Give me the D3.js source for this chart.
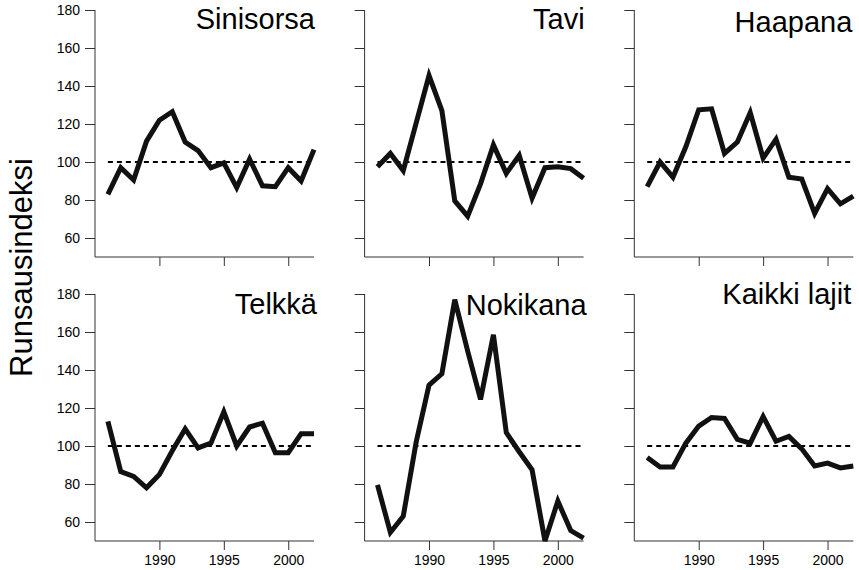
<!DOCTYPE html>
<html>
<head>
<meta charset="utf-8">
<script src="https://cdn.jsdelivr.net/npm/d3@7/dist/d3.min.js"></script>
<style>
    html, body { margin: 0; padding: 0; background: #fff; }
    #chart { width: 859px; height: 570px; }
    text { font-family: "Liberation Sans", Arial, Helvetica, sans-serif; }
</style>
</head>
<body>
<div id="chart"></div>
<script>
// vuodet ja lajikohtaiset indeksit (luettu kuvasta)
const years = [1986, 1987, 1988, 1989, 1990, 1991, 1992, 1993, 1994, 1995, 1996, 1997, 1998, 1999, 2000, 2001, 2002];
const sinisorsa = [83, 97, 90.5, 111, 122, 126.5, 110.5, 106, 97, 99.5, 86.5, 101.5, 87.5, 87, 97, 90, 106.5];
const tavi = [97.5, 104.5, 95.5, 120.5, 145.5, 127, 79.5, 71.5, 88.5, 109, 94, 103.5, 81, 97, 97.5, 96.5, 91.5];
const haapana = [87, 100, 92, 108, 127.5, 128, 104.5, 110.5, 126, 102, 112, 92, 91, 73, 86, 78, 82];
const telkka = [113, 86.5, 84, 78, 85, 97.5, 109, 99, 101.5, 118, 100, 110, 112, 96.5, 96.5, 106.5, 106.5];
const nokikana = [79.5, 54.5, 63, 102, 132, 138, 177, 150, 124.5, 158.5, 107, 97, 87.5, 50, 71, 55.5, 51.5];
const kaikki = [94, 89, 89, 101.5, 110.5, 115, 114.5, 103.5, 101.5, 115.5, 102.5, 105, 98.5, 89.5, 91, 88.5, 89.5];

const titles = ['Sinisorsa', 'Tavi', 'Haapana', 'Telkkä', 'Nokikana', 'Kaikki lajit'];
const series = [sinisorsa, tavi, haapana, telkka, nokikana, kaikki];
const yTicks = [60, 80, 100, 120, 140, 160, 180];
const xTicks = [1990, 1995, 2000];
const yDomain = [50, 180];
const xDomain = [1985, 2002];
const baseline = 100;
const yLabel = 'Runsausindeksi';

// otsikoiden sijainti paneelin sisällä (oikea reuna, peruslinja)
const titleDx = [220, 220, 218, 222, 222, 217];
const titleDy = [18.5, 19, 21.5, 19.5, 21, 9.5];

class PanelChart {
    constructor(div_id) {
        this.div_id = div_id;
        this.width = 859;
        this.height = 570;
        this.colX = [95, 364.6, 634.3];
        this.rowY = [10, 294];
        this.plotW = 219;
        this.plotH = 247;
        this.svg = undefined;
    }

    setting() {
        this.svg = d3.select(`#${this.div_id}`)
            .append('svg')
            .attr('width', this.width)
            .attr('height', this.height)
            .attr('viewBox', [0, 0, this.width, this.height]);
    }

    renderPanel(i) {
        const col = i % 3;
        const row = Math.floor(i / 3);
        const g = this.svg.append('g')
            .attr('transform', `translate(${this.colX[col]},${this.rowY[row]})`);

        const x = d3.scaleLinear().domain(xDomain).range([0, this.plotW]);
        const y = d3.scaleLinear().domain(yDomain).range([this.plotH, 0]);

        // y-akseli
        const yAxis = d3.axisLeft(y)
            .tickValues(yTicks)
            .tickSize(10)
            .tickPadding(5)
            .tickFormat(col === 0 ? d3.format('d') : () => '');
        const ya = g.append('g').call(yAxis);
        ya.select('.domain').attr('d', `M0,${y(yDomain[1])}V${y(yDomain[0])}`);

        // x-akseli
        const xAxis = d3.axisBottom(x)
            .tickValues(xTicks)
            .tickSize(9)
            .tickPadding(5)
            .tickFormat(row === 1 ? d3.format('d') : () => '');
        const xa = g.append('g')
            .attr('transform', `translate(0,${this.plotH})`)
            .call(xAxis);
        xa.select('.domain').attr('d', `M0,0H${this.plotW}`);

        [ya, xa].forEach(a => {
            a.selectAll('.domain, .tick line').attr('stroke', '#333').attr('stroke-width', 1);
            a.selectAll('.tick text')
                .attr('fill', '#000')
                .style('font-size', '14px')
                .style('font-family', '"Liberation Sans", Arial, sans-serif');
        });

        // katkoviiva tasolla 100
        g.append('line')
            .attr('x1', x(years[0]))
            .attr('x2', x(years[years.length - 1]))
            .attr('y1', y(baseline))
            .attr('y2', y(baseline))
            .attr('stroke', '#000')
            .attr('stroke-width', 2)
            .attr('stroke-dasharray', '5,4');

        const line = d3.line()
            .x((d, k) => x(years[k]))
            .y(d => y(d));

        g.append('path')
            .datum(series[i])
            .attr('fill', 'none')
            .attr('stroke', '#111')
            .attr('stroke-width', 5)
            .attr('stroke-linejoin', 'miter')
            .attr('stroke-miterlimit', 4)
            .attr('d', line);

        g.append('text')
            .attr('x', titleDx[i])
            .attr('y', titleDy[i])
            .attr('text-anchor', 'end')
            .attr('fill', '#000')
            .style('font-size', '29px')
            .text(titles[i]);
    }

    render() {
        this.setting();
        series.forEach((s, i) => this.renderPanel(i));

        this.svg.append('text')
            .attr('transform', 'translate(32,267.5) rotate(-90)')
            .attr('text-anchor', 'middle')
            .attr('fill', '#000')
            .style('font-size', '31px')
            .text(yLabel);
    }
}

const chart = new PanelChart('chart');
chart.render();
</script>
</body>
</html>
